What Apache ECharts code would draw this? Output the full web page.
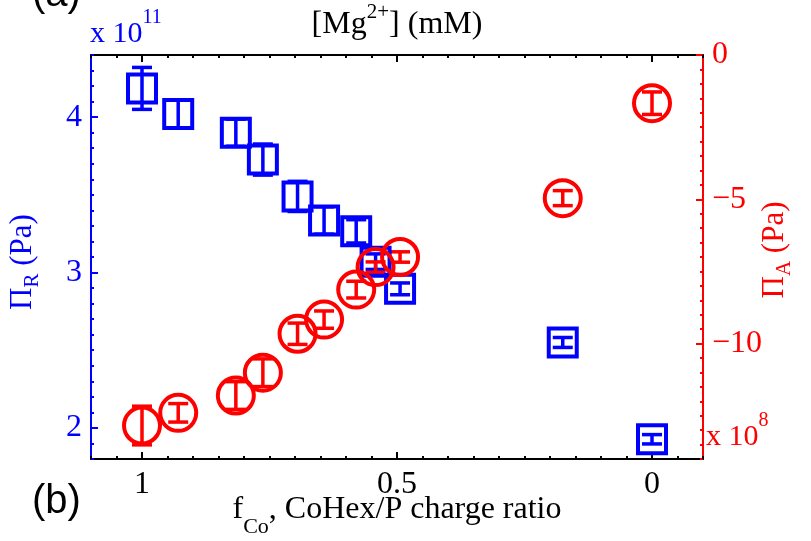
<!DOCTYPE html>
<html>
<head>
<meta charset="utf-8">
<script src="https://cdn.jsdelivr.net/npm/echarts@6/dist/echarts.min.js"></script>
<style>
html, body { margin: 0; padding: 0; background: #fff; }
#chart { width: 811px; height: 541px; }
</style>
</head>
<body>
<div id="chart"></div>
<script>
// f_Co, CoHex/P charge ratio
var fCo = [1.0, 0.929, 0.816, 0.763, 0.695, 0.643, 0.580, 0.542, 0.494, 0.175, 0.0];
// Pi_R (x 10^11 Pa) and its error
var piR = [4.185, 4.02, 3.90, 3.727, 3.49, 3.335, 3.265, 3.07, 2.895, 2.55, 1.927];
var piRErr = [0.135, 0.09, 0.087, 0.1, 0.097, 0.088, 0.075, 0.05, 0.038, 0.032, 0.03];
// Pi_A (x 10^8 Pa) and its error
var piA = [-12.84, -12.40, -11.80, -11.01, -9.66, -9.17, -8.13, -7.35, -7.0, -4.96, -1.67];
var piAErr = [0.67, 0.32, 0.48, 0.48, 0.37, 0.30, 0.29, 0.18, 0.18, 0.26, 0.39];

var xTicks = [0, 0.5, 1];
var rTicks = [2, 3, 4];
var aTicks = [-10, -5, 0];

var BLUE = '#0000ff';
var RED = '#ff0000';
var SERIF = '"Liberation Serif", "Times New Roman", serif';

var chart = echarts.init(document.getElementById('chart'));

function minus(v) {
    return v < 0 ? '\u2212' + Math.abs(v) : String(v);
}

// vertical error bar with caps
function errorBars(color, width, cap) {
    return function (params, api) {
        var x = api.value(0), y = api.value(1), e = api.value(2);
        var hi = api.coord([x, y + e]);
        var lo = api.coord([x, y - e]);
        var st = { stroke: color, lineWidth: width };
        return {
            type: 'group',
            children: [
                { type: 'line', shape: { x1: hi[0], y1: hi[1], x2: lo[0], y2: lo[1] }, style: st },
                { type: 'line', shape: { x1: hi[0] - cap, y1: hi[1], x2: hi[0] + cap, y2: hi[1] }, style: st },
                { type: 'line', shape: { x1: lo[0] - cap, y1: lo[1], x2: lo[0] + cap, y2: lo[1] }, style: st }
            ]
        };
    };
}

function xAxisPair(pos, labels) {
    var base = {
        type: 'value', position: pos, min: -0.1, max: 1.1, inverse: true,
        interval: 0.05, splitLine: { show: false }
    };
    return [
        Object.assign({}, base, {
            axisLine: { show: true, onZero: false, lineStyle: { color: '#000', width: 2 } },
            axisTick: { show: true, inside: true, length: 3, lineStyle: { color: '#000', width: 2 } },
            axisLabel: labels ? {
                show: true, customValues: xTicks, margin: 10,
                fontFamily: SERIF, fontSize: 32, color: '#000'
            } : { show: false }
        }),
        Object.assign({}, base, {
            axisLine: { show: false, onZero: false },
            axisTick: { show: true, inside: true, length: 7, customValues: xTicks, lineStyle: { color: '#000', width: 2 } },
            axisLabel: { show: false }
        })
    ];
}

function yAxisPair(pos, min, max, minor, majors, color) {
    var base = {
        type: 'value', position: pos, min: min, max: max, interval: minor,
        splitLine: { show: false }
    };
    return [
        Object.assign({}, base, {
            axisLine: { show: true, onZero: false, lineStyle: { color: color, width: 2 } },
            axisTick: { show: true, inside: true, length: 3, lineStyle: { color: color, width: 2 } },
            axisLabel: {
                show: true, customValues: majors, margin: 9, formatter: minus,
                fontFamily: SERIF, fontSize: 32, color: color
            }
        }),
        Object.assign({}, base, {
            axisLine: { show: false, onZero: false },
            axisTick: { show: true, inside: true, length: 7, customValues: majors, lineStyle: { color: color, width: 2 } },
            axisLabel: { show: false }
        })
    ];
}

// b = main text, up = superscript, dn = subscript
function richText(size, small, sup, sub) {
    return {
        b: { fontFamily: SERIF, fontSize: size, lineHeight: size + 4 },
        up: { fontFamily: SERIF, fontSize: small, lineHeight: small, padding: [0, 0, sup, 0] },
        dn: { fontFamily: SERIF, fontSize: small, lineHeight: small, padding: [sub, 0, 0, 0] }
    };
}

var option = {
    animation: false,
    backgroundColor: '#fff',
    grid: { left: 91, right: 108, top: 55, bottom: 82, containLabel: false },
    xAxis: xAxisPair('bottom', true).concat(xAxisPair('top', false)),
    yAxis: yAxisPair('left', 1.8, 4.4, 0.1, rTicks, BLUE)
        .concat(yAxisPair('right', -14, 0, 0.5, aTicks, RED)),
    series: [
        {
            type: 'custom', xAxisIndex: 0, yAxisIndex: 0, silent: true,
            renderItem: errorBars(BLUE, 3.5, 10),
            encode: { x: 0, y: 1 },
            data: fCo.map(function (f, i) { return [f, piR[i], piRErr[i]]; })
        },
        {
            type: 'scatter', xAxisIndex: 0, yAxisIndex: 0, silent: true,
            symbol: 'rect', symbolSize: 28,
            itemStyle: { color: 'rgba(0,0,0,0)', borderColor: BLUE, borderWidth: 4, opacity: 1 },
            data: fCo.map(function (f, i) { return [f, piR[i]]; })
        },
        {
            type: 'custom', xAxisIndex: 0, yAxisIndex: 2, silent: true,
            renderItem: errorBars(RED, 3.5, 10),
            encode: { x: 0, y: 1 },
            data: fCo.map(function (f, i) { return [f, piA[i], piAErr[i]]; })
        },
        {
            type: 'scatter', xAxisIndex: 0, yAxisIndex: 2, silent: true,
            symbol: 'circle', symbolSize: 36,
            itemStyle: { color: 'rgba(0,0,0,0)', borderColor: RED, borderWidth: 4, opacity: 1 },
            data: fCo.map(function (f, i) { return [f, piA[i]]; })
        }
    ],
    graphic: [
        {
            type: 'text', x: 32, y: -5,
            style: { text: '(a)', font: '40px "Liberation Sans", Arial, sans-serif', fill: '#000', align: 'left', verticalAlign: 'middle' }
        },
        {
            type: 'text', x: 32, y: 502,
            style: { text: '(b)', font: '40px "Liberation Sans", Arial, sans-serif', fill: '#000', align: 'left', verticalAlign: 'middle' }
        },
        {
            type: 'text', x: 90, y: 34,
            style: { text: '{b|x 10}{up|11}', rich: richText(30, 20, 32, 0), fill: BLUE, align: 'left', verticalAlign: 'middle' }
        },
        {
            type: 'text', x: 706, y: 437,
            style: { text: '{b|x 10}{up|8}', rich: richText(30, 20, 32, 0), fill: RED, align: 'left', verticalAlign: 'middle' }
        },
        {
            type: 'text', x: 397, y: 25,
            style: { text: '{b|[Mg}{up|2+}{b|] (mM)}', rich: richText(32, 21, 25, 0), fill: '#000', align: 'center', verticalAlign: 'middle' }
        },
        {
            type: 'text', x: 397, y: 510,
            style: { text: '{b|f}{dn|Co}{b|, CoHex/P charge ratio}', rich: richText(32, 22, 0, 34), fill: '#000', align: 'center', verticalAlign: 'middle' }
        },
        {
            type: 'text', x: 23, y: 262, rotation: Math.PI / 2,
            style: { text: '{b|\u03a0}{dn|R}{b| (Pa)}', rich: richText(31, 21, 0, 18), fill: BLUE, align: 'center', verticalAlign: 'middle' }
        },
        {
            type: 'text', x: 775, y: 250, rotation: Math.PI / 2,
            style: { text: '{b|\u03a0}{dn|A}{b| (Pa)}', rich: richText(31, 21, 0, 18), fill: RED, align: 'center', verticalAlign: 'middle' }
        }
    ]
};

chart.setOption(option);
</script>
</body>
</html>
